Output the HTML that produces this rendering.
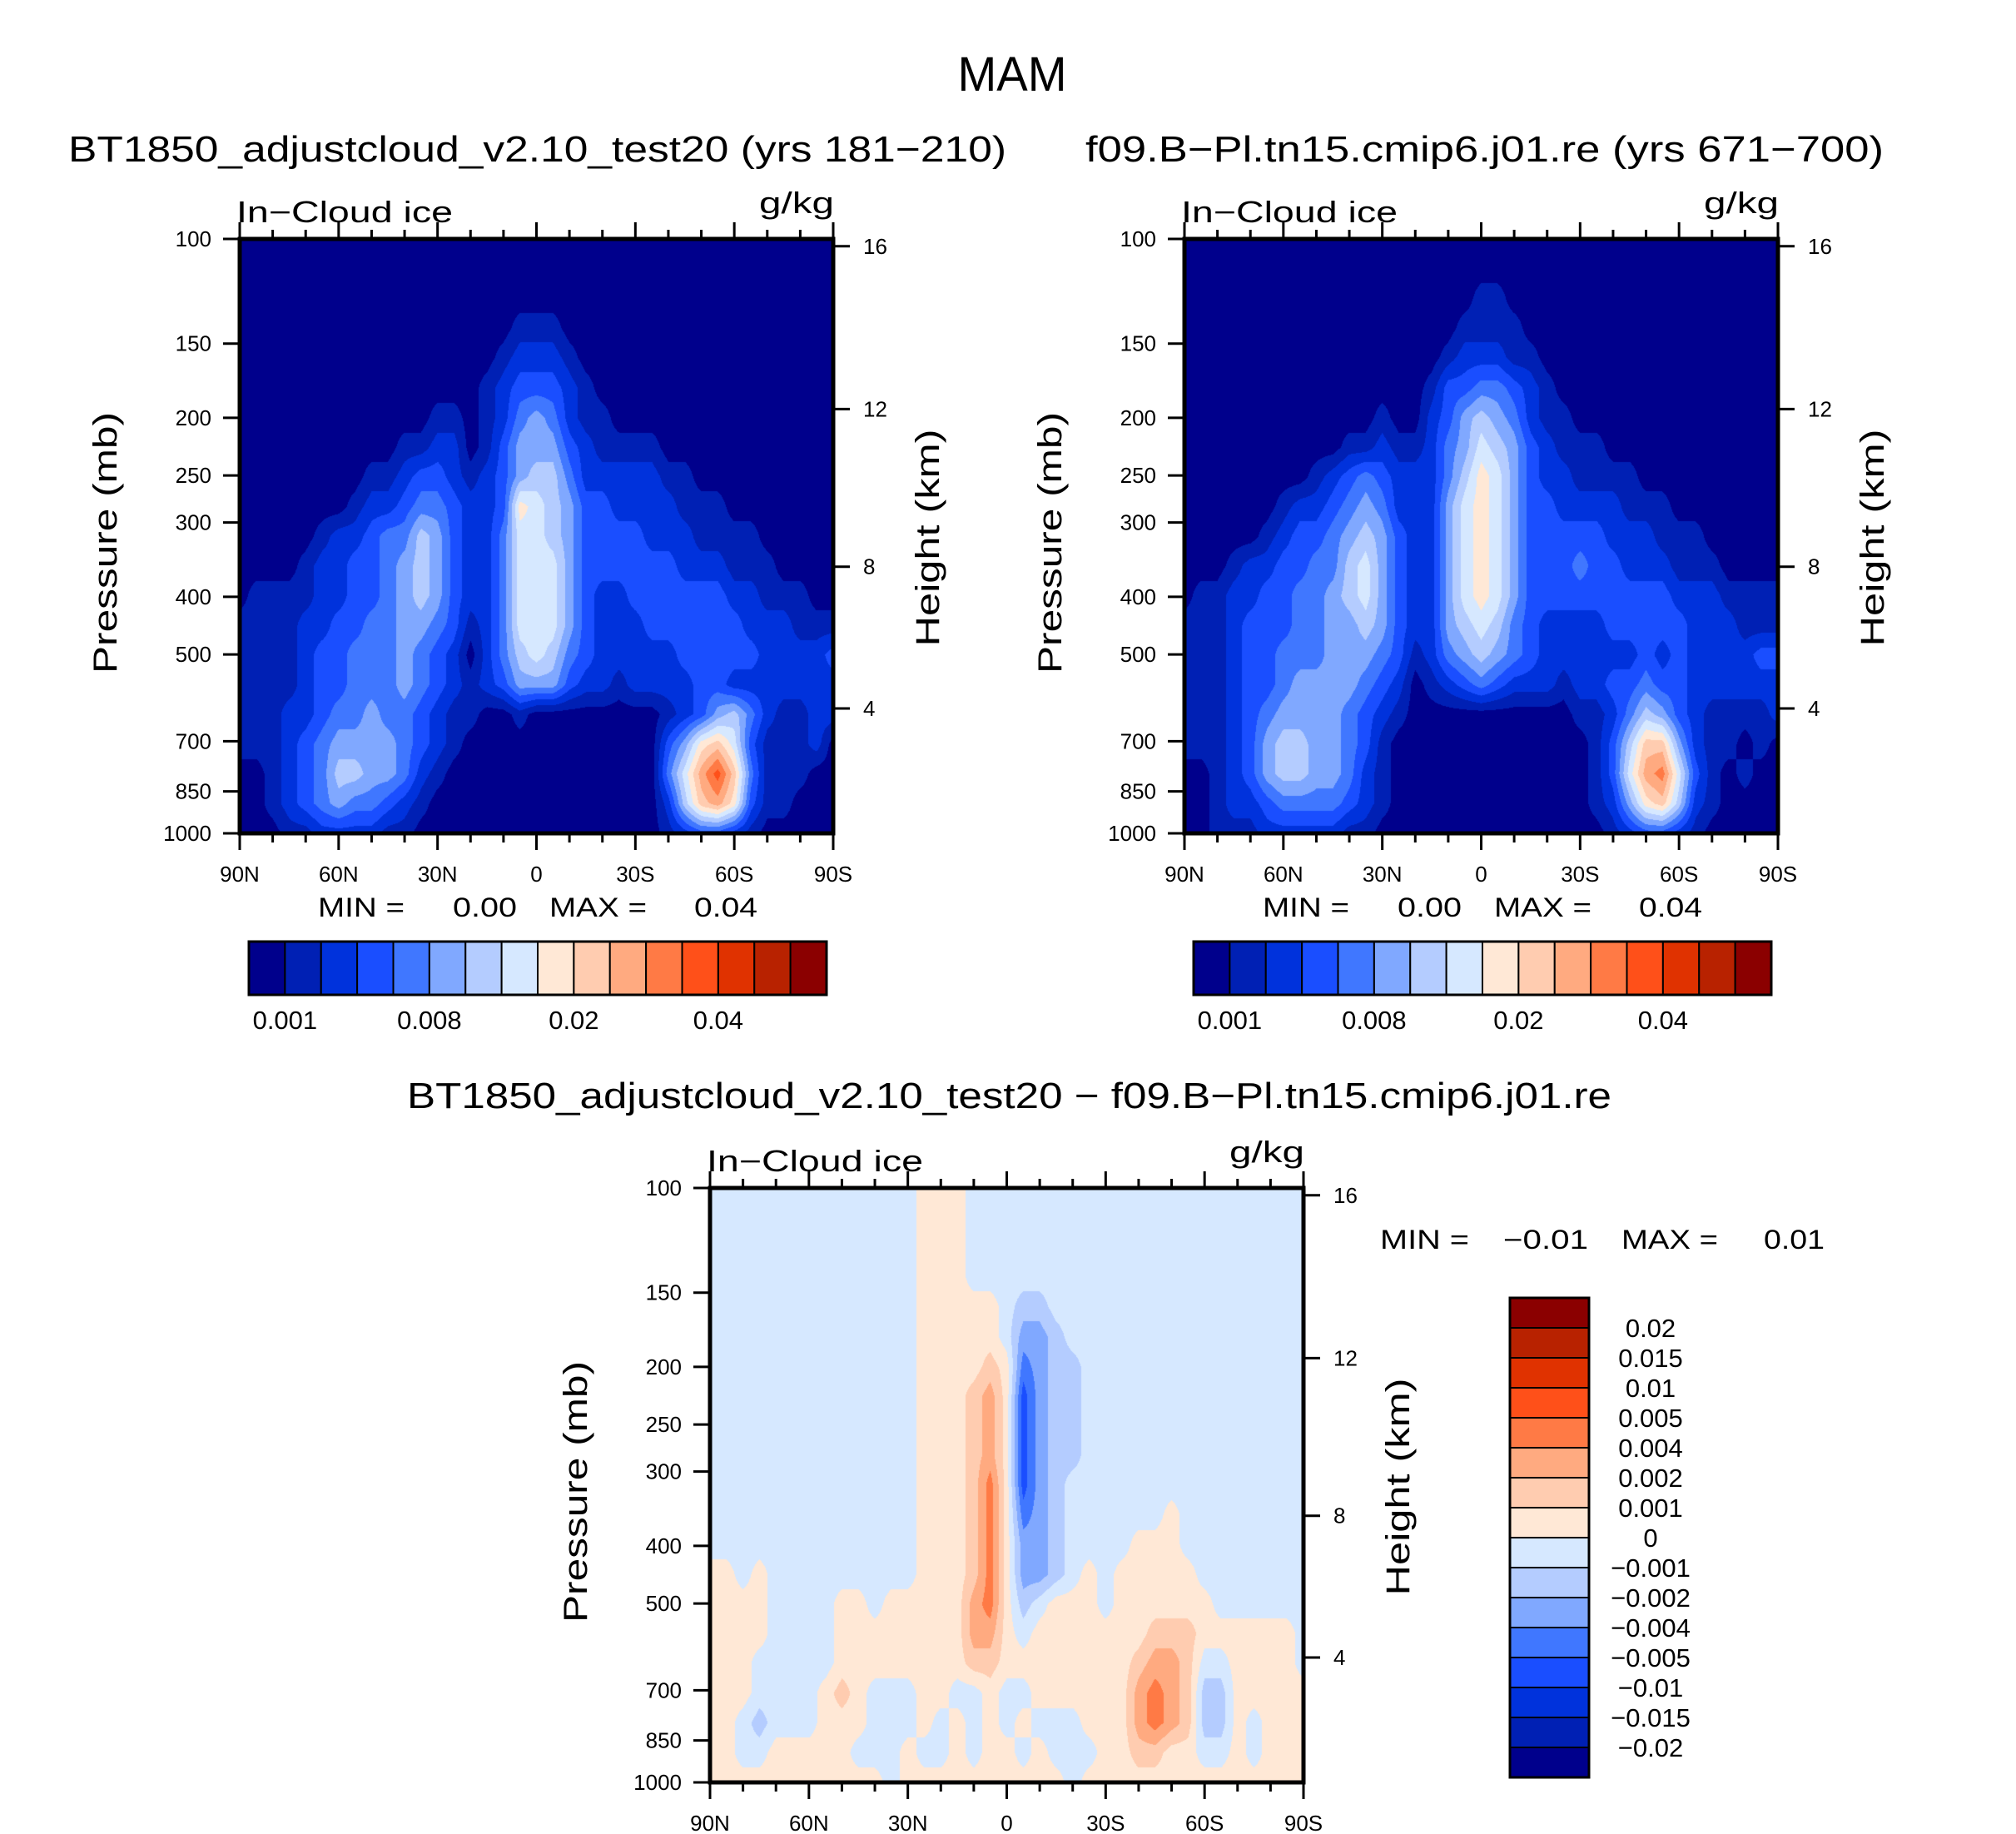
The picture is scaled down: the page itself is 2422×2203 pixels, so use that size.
<!DOCTYPE html>
<html><head><meta charset="utf-8"><title>MAM In-Cloud ice</title>
<style>
html,body{margin:0;padding:0;background:#fff;}
body{width:2422px;height:2203px;position:relative;overflow:hidden;font-family:"Liberation Sans",sans-serif;}
canvas{position:absolute;}
svg{position:absolute;left:0;top:0;}
</style></head>
<body>
<canvas id="c1"></canvas>
<canvas id="c2"></canvas>
<canvas id="c3"></canvas>
<svg id="ov" width="2422" height="2203" xmlns="http://www.w3.org/2000/svg"></svg>
<script>
// ---- data ----
const lats = [90,85,80,75,70,65,60,55,50,45,40,35,30,25,20,15,10,5,0,-5,-10,-15,-20,-25,-30,-35,-40,-45,-50,-55,-60,-65,-70,-75,-80,-85,-90];
const pLevels = [100,112,126,141,158,178,200,224,251,282,316,355,398,447,501,562,631,708,794,891,1000];
// level indices (hex, 0..f) per pressure row (top->bottom), columns 90N->90S
const ctrlGrid = [
"0000000000000000000000000000000000000",
"0000000000000000000000000000000000000",
"0000000000000000000000000000000000000",
"0000000000000000011100000000000000000",
"0000000000000000122210000000000000000",
"0000000000000001233321000000000000000",
"0000000000001101245421100000000000000",
"0000000000112201355532111100000000000",
"0000000011233212356642222211000000000",
"0000000122344322387653322221110000000",
"0000012234465322477653333222111100000",
"0000122334565322477753333332221110000",
"0111122334565322477753223333332211100",
"1111223344554312477753222333333222111",
"1111233444543202467643222223333322223",
"1111233444543212355532212222332222222",
"1112234454432110010000000012356421122",
"1112345555432100000000000035897311120",
"0012346655421000000000000047ac9411100",
"00123454432100000000000000269a8311000",
"0001122221100000000000000012332100000"];
const cmipGrid = [
"0000000000000000000000000000000000000",
"0000000000000000000000000000000000000",
"0000000000000000001100000000000000000",
"0000000000000000011110000000000000000",
"0000000000000000122211000000000000000",
"0000000000000001334432100000000000000",
"0000000000001002356542110000000000000",
"0000000000112112457653211100000000000",
"0000000012343222468753221111000000000",
"0000001223454222578753322221110000000",
"0000012334565322578753333322211100000",
"0001223344675322578753334332221110000",
"0112233445675322578753333333332221111",
"1112333445565322567643222233333222111",
"1112334445554312456543222222323222233",
"1112334555543201234322212233433222222",
"1112345555432100000000001124653211112",
"1112356655431000000000000136995211010",
"0012356655421000000000000137ab7310100",
"0012234444321000000000000125896210000",
"0011122222110000000000000012332100000"];
const diffGrid = [
"7777777777777888777777777777777777777",
"7777777777777888777777777777777777777",
"7777777777777888777777777777777777777",
"7777777777777888777777777777777777777",
"7777777777777888887667777777777777777",
"7777777777777888887556777777777777777",
"7777777777777888898456677777777777777",
"77777777777778889a8356677777777777777",
"77777777777778889a8356677777777777777",
"77777777777778889a8356677777777777777",
"77777777777778889b8356777777777777777",
"77777777777778889b8456777777877777777",
"77777777777778889b8556777788877777777",
"88787777777778889b8556787888887777777",
"8888777788788888ab8678887888888777777",
"8888777788" + "888888aa87" + "8888888999" + "8888887",
"8887777788" + "8888889988" + "8888889aa9" + "7788887",
"8887777898" + "7778877877" + "888888aba9" + "6688888",
"8876777888" + "7778787878" + "777888aba9" + "6687888",
"8877888887" + "7787787887" + "8777889988" + "7787888",
"8888888888878888888888788888888888888"];
const cbarLabels = ["0.001","0.008","0.02","0.04"];
const cbarLabelIdx = [1,5,9,13];
const diffCbarLabels = ["0.02","0.015","0.01","0.005","0.004","0.002","0.001","0","\u22120.001","\u22120.002","\u22120.004","\u22120.005","\u22120.01","\u22120.015","\u22120.02"];
const pTicks = [100,150,200,250,300,400,500,700,850,1000];
const zTicks = [4,8,12,16];
const latTickLabels = ["90N","60N","30N","0","30S","60S","90S"];
const latTickVals = [90,60,30,0,-30,-60,-90];

const PAL = ["#00008c","#0020b4","#0032dc","#1a4eff","#4077ff","#80a8ff","#b4ccff","#d6e8ff",
             "#ffe8d6","#ffccb0","#ffaa80","#ff7a45","#ff5019","#e03200","#b82200","#8b0000"];

const panels = [
  {id:"c1", key:"control", x0:288, y0:287, w:713, h:714, grid:ctrlGrid},
  {id:"c2", key:"reference", x0:1423, y0:287, w:713, h:714, grid:cmipGrid},
  {id:"c3", key:"difference", x0:853, y0:1427, w:713, h:714, grid:diffGrid}
];

function xScale(pn, lat){ return pn.x0 + (90 - lat) / 180 * pn.w; }
function yScale(pn, p){ return pn.y0 + Math.log10(p / 100) * pn.h; }
function zToP(z){ return z <= 11 ? 1013.25 * Math.pow(1 - 0.0225577 * z, 5.25588) : 226.32 * Math.exp(-(z - 11) / 6.3416); }

function parseGrid(rows){
  return rows.map(r => { const a = []; for (let i = 0; i < lats.length; i++) { const c = r[i] || r[r.length-1]; a.push(parseInt(c, 16)); } return a; });
}
function hexRgb(h){ return [parseInt(h.substr(1,2),16),parseInt(h.substr(3,2),16),parseInt(h.substr(5,2),16)]; }
const RGB = PAL.map(hexRgb);

function renderField(pn){
  const cv = document.getElementById(pn.id);
  cv.width = pn.w; cv.height = pn.h;
  cv.style.left = pn.x0 + "px"; cv.style.top = pn.y0 + "px";
  const ctx = cv.getContext("2d");
  const img = ctx.createImageData(pn.w, pn.h);
  const g = parseGrid(pn.grid);
  const colIdx = [], colT = [];
  for (let px = 0; px < pn.w; px++) {
    const lat = 90 - 180 * (px + 0.5) / pn.w;
    let i = 0; while (i < lats.length - 2 && lats[i+1] > lat) i++;
    colIdx.push(i); colT.push((lats[i] - lat) / (lats[i] - lats[i+1]));
  }
  for (let py = 0; py < pn.h; py++) {
    const p = 100 * Math.pow(10, (py + 0.5) / pn.h);
    let j = 0; while (j < pLevels.length - 2 && pLevels[j+1] < p) j++;
    const t = (Math.log(p) - Math.log(pLevels[j])) / (Math.log(pLevels[j+1]) - Math.log(pLevels[j]));
    const r0 = g[j], r1 = g[j+1];
    for (let px = 0; px < pn.w; px++) {
      const i = colIdx[px], s = colT[px];
      const v = (1-t)*((1-s)*r0[i] + s*r0[i+1]) + t*((1-s)*r1[i] + s*r1[i+1]);
      const k = Math.max(0, Math.min(15, Math.round(v)));
      const c = RGB[k], o = (py * pn.w + px) * 4;
      img.data[o] = c[0]; img.data[o+1] = c[1]; img.data[o+2] = c[2]; img.data[o+3] = 255;
    }
  }
  ctx.putImageData(img, 0, 0);
}
panels.forEach(renderField);

// ---- overlay ----
const NS = "http://www.w3.org/2000/svg";
const ov = document.getElementById("ov");
function mk(tag, attrs, name){
  const el = document.createElementNS(NS, tag);
  for (const k in attrs) el.setAttribute(k, attrs[k]);
  
  
  ov.appendChild(el);
  return el;
}
function txt(x, y, s, size, anchor, name, len, rot){
  const a = {x:x, y:y, "font-size":size, "text-anchor":anchor || "start", fill:"#000",
             "font-family":"Liberation Sans, sans-serif"};
  if (len) { a.textLength = len; a.lengthAdjust = "spacingAndGlyphs"; }
  if (rot) a.transform = "rotate(" + rot + " " + x + " " + y + ")";
  const el = mk("text", a, name);
  el.textContent = s;
  return el;
}
function line(x1,y1,x2,y2,w,name){ return mk("line",{x1:x1,y1:y1,x2:x2,y2:y2,stroke:"#000","stroke-width":w},name); }

txt(1216, 109, "MAM", 58, "middle", "figure-title", 131);
txt(82, 194, "BT1850_adjustcloud_v2.10_test20 (yrs 181\u2212210)", 44, "start", "control-panel-title", 1127);
txt(1304, 194, "f09.B\u2212Pl.tn15.cmip6.j01.re (yrs 671\u2212700)", 44, "start", "reference-panel-title", 959);
txt(489, 1331, "BT1850_adjustcloud_v2.10_test20 \u2212 f09.B\u2212Pl.tn15.cmip6.j01.re", 44, "start", "difference-panel-title", 1447);

function axes(pn){
  const k = pn.key;
  const R = pn.x0 + pn.w, B = pn.y0 + pn.h;
  txt(pn.x0 - 4, pn.y0 - 20, "In\u2212Cloud ice", 36, "start", k + "-variable-label", 260);
  txt(R + 1, pn.y0 - 31, "g/kg", 36, "end", k + "-units-label", 90);
  pTicks.forEach(p => {
    const y = yScale(pn, p);
    line(pn.x0 - 20, y, pn.x0, y, 3, k + "-pressure-tick");
    txt(pn.x0 - 34, y + 9, String(p), 26, "end", k + "-pressure-tick-label");
  });
  zTicks.forEach(z => {
    const y = yScale(pn, zToP(z));
    line(R, y, R + 20, y, 3, k + "-height-tick");
    txt(R + 36, y + 9, String(z), 26, "start", k + "-height-tick-label");
  });
  for (let lat = 90; lat >= -90; lat -= 10) {
    const x = xScale(pn, lat), major = lat % 30 === 0;
    const L = major ? 20 : 11;
    line(x, pn.y0, x, pn.y0 - L, 3, k + "-top-lat-tick");
    line(x, B, x, B + L, 3, k + "-bottom-lat-tick");
  }
  latTickVals.forEach((v, i) => {
    txt(xScale(pn, v), B + 58, latTickLabels[i], 26, "middle", k + "-lat-tick-label");
  });
  mk("rect", {x:pn.x0, y:pn.y0, width:pn.w, height:pn.h, fill:"none", stroke:"#000", "stroke-width":5}, k + "-plot-frame");
  const cy = pn.y0 + pn.h * 0.5;
  txt(pn.x0 - 148, cy + 8, "Pressure (mb)", 40, "middle", k + "-pressure-axis-title", 314, -90);
  txt(R + 127, cy + 2, "Height (km)", 40, "middle", k + "-height-axis-title", 261, -90);
}
panels.forEach(axes);

[[0, "0.00", "0.04"], [1135, "0.00", "0.04"]].forEach((m, n) => {
  const dx = m[0], nm = n === 0 ? "control" : "reference";
  txt(382 + dx, 1101, "MIN  =", 32, "start", nm + "-min-label", 104);
  txt(544 + dx, 1101, m[1], 32, "start", nm + "-min-value", 77);
  txt(660 + dx, 1101, "MAX  =", 32, "start", nm + "-max-label", 117);
  txt(834 + dx, 1101, m[2], 32, "start", nm + "-max-value", 76);
});
txt(1658, 1500, "MIN  =", 32, "start", "difference-min-label", 107);
txt(1806, 1500, "\u22120.01", 32, "start", "difference-min-value", 102);
txt(1948, 1500, "MAX  =", 32, "start", "difference-max-label", 116);
txt(2119, 1500, "0.01", 32, "start", "difference-max-value", 73);

[299, 1434].forEach((cx, n) => {
  const nm = n === 0 ? "control" : "reference";
  const w = 694, y = 1131, h = 64, bw = w / 16;
  for (let i = 0; i < 16; i++) {
    mk("rect", {x:cx + i*bw, y:y, width:bw, height:h, fill:PAL[i], stroke:"#000", "stroke-width":2}, nm + "-colorbar-box");
  }
  mk("rect", {x:cx, y:y, width:w, height:h, fill:"none", stroke:"#000", "stroke-width":3}, nm + "-colorbar-frame");
  cbarLabels.forEach((s, i) => {
    txt(cx + cbarLabelIdx[i]*bw, 1236, s, 31, "middle", nm + "-colorbar-label");
  });
});
(function(){
  const x = 1814, y = 1559, w = 95, h = 576, bh = h / 16;
  for (let i = 0; i < 16; i++) {
    mk("rect", {x:x, y:y + i*bh, width:w, height:bh, fill:PAL[15 - i], stroke:"#000", "stroke-width":2}, "difference-colorbar-box");
  }
  mk("rect", {x:x, y:y, width:w, height:h, fill:"none", stroke:"#000", "stroke-width":3}, "difference-colorbar-frame");
  diffCbarLabels.forEach((s, i) => {
    txt(1983, y + (i + 1)*bh + 11, s, 31, "middle", "difference-colorbar-label");
  });
})();
</script>
</body></html>
